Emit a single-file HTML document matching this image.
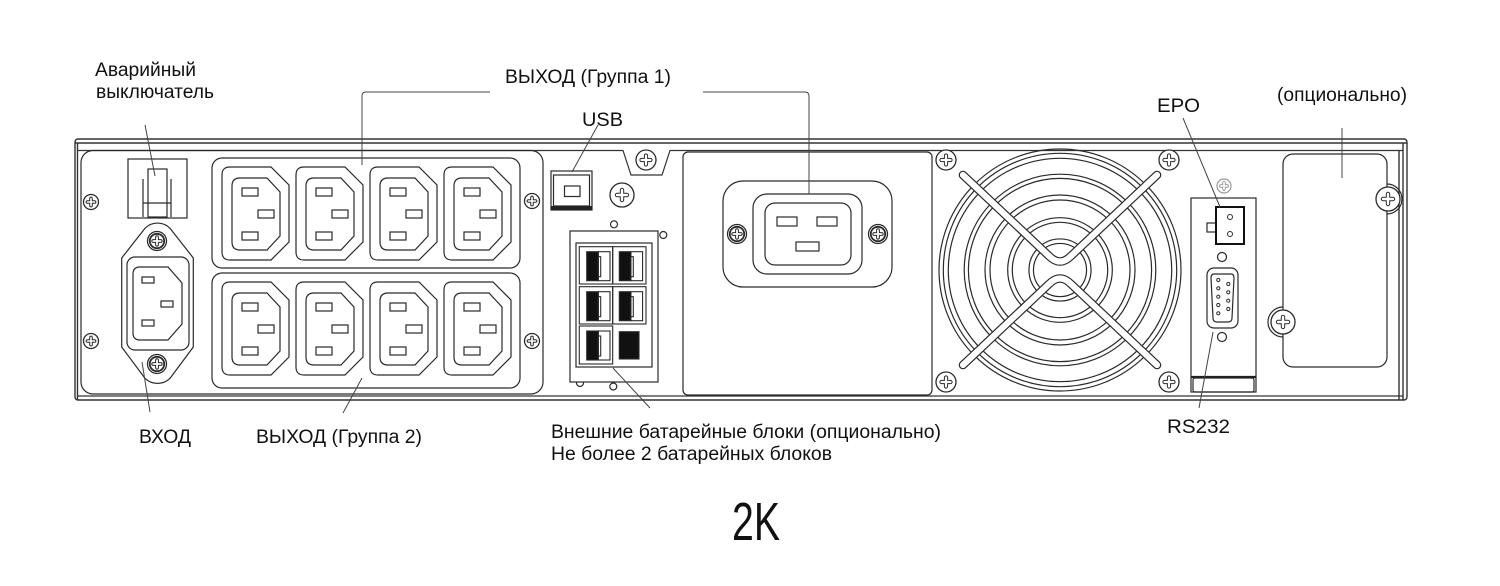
<!DOCTYPE html>
<html><head><meta charset="utf-8">
<style>
html,body{margin:0;padding:0;background:#fff;width:1500px;height:586px;overflow:hidden}
svg{display:block}
text{font-family:"Liberation Sans","DejaVu Sans",sans-serif;fill:#111;font-size:19px}
</style></head><body>
<svg width="1500" height="586" viewBox="0 0 1500 586" xmlns="http://www.w3.org/2000/svg">
<defs>
 <g id="outlet" fill="none" stroke="#2a2a2a" stroke-width="1.2">
  <path d="M8,0 H49 L67,18 V75 L49,93 H8 Q0,93 0,85 V8 Q0,0 8,0 Z"/>
  <path d="M18,11 H45 L58,25 V69 L45,83 H18 Q10,83 10,75 V19 Q10,11 18,11 Z"/>
  <rect x="20" y="21" width="16" height="8"/>
  <rect x="36" y="43" width="16" height="8"/>
  <rect x="20" y="65" width="16" height="8"/>
 </g>
 <g id="s7">
  <circle r="7.5" fill="#fff" stroke="#2a2a2a" stroke-width="1.3"/>
  <path d="M-3.6,0 H3.6 M0,-3.6 V3.6" stroke="#2a2a2a" stroke-width="3.6" stroke-linecap="round" fill="none"/>
  <path d="M-3.6,0 H3.6 M0,-3.6 V3.6" stroke="#fff" stroke-width="1.6" stroke-linecap="round" fill="none"/>
 </g>
 <g id="sd">
  <circle r="9.5" fill="#fff" stroke="#2a2a2a" stroke-width="1.3"/>
  <circle r="7.2" fill="#fff" stroke="#2a2a2a" stroke-width="1.8"/>
  <path d="M-3.8,0 H3.8 M0,-3.8 V3.8" stroke="#2a2a2a" stroke-width="3.8" stroke-linecap="round" fill="none"/>
  <path d="M-3.8,0 H3.8 M0,-3.8 V3.8" stroke="#fff" stroke-width="1.8" stroke-linecap="round" fill="none"/>
 </g>
 <g id="s10">
  <circle r="10" fill="#fff" stroke="#2a2a2a" stroke-width="1.3"/>
  <path d="M-4.5,0 H4.5 M0,-4.5 V4.5" stroke="#2a2a2a" stroke-width="4.2" stroke-linecap="round" fill="none"/>
  <path d="M-4.5,0 H4.5 M0,-4.5 V4.5" stroke="#fff" stroke-width="2.2" stroke-linecap="round" fill="none"/>
 </g>
 <g id="s12">
  <circle r="12" fill="#fff" stroke="#2a2a2a" stroke-width="1.3"/>
  <path d="M-5,0 H5 M0,-5 V5" stroke="#2a2a2a" stroke-width="4.4" stroke-linecap="round" fill="none"/>
  <path d="M-5,0 H5 M0,-5 V5" stroke="#fff" stroke-width="2.4" stroke-linecap="round" fill="none"/>
 </g>
</defs>

<rect width="1500" height="586" fill="#fff"/>

<!-- chassis -->
<g fill="none" stroke="#333" stroke-width="1.4">
 <rect x="75" y="139" width="1332" height="261" rx="3"/>
 <line x1="75" y1="143" x2="1407" y2="143"/>
 <line x1="77.5" y1="143" x2="77.5" y2="400"/>
 <line x1="1403" y1="143" x2="1403" y2="400"/>
 <line x1="1399" y1="150.5" x2="1399" y2="400"/>
 <path d="M77.5,150.5 H623 L631,175 H662 L670,150.5 H1403" stroke-width="1.2"/>
 <line x1="77.5" y1="396" x2="1403" y2="396" stroke-width="1.2"/>
</g>

<g fill="none" stroke="#2a2a2a" stroke-width="1.2">
 <!-- left panel -->
 <rect x="81" y="150.5" width="462" height="243.5" rx="12"/>
 <!-- emergency switch -->
 <rect x="128" y="159" width="59" height="59"/>
 <line x1="143" y1="179" x2="143" y2="217"/>
 <line x1="171" y1="179" x2="171" y2="217"/>
 <rect x="148" y="169" width="19" height="48"/>
 <line x1="143" y1="203" x2="171" y2="203"/>
 <!-- input flange -->
 <path d="M121.7,258 L145,228.3 A17.5,17.5 0 0 1 170,228.3 L193.3,258 V347 L170,378.3 A18,18 0 0 1 145,378.3 L121.7,347 Z"/>
 <rect x="127" y="257" width="62" height="93" rx="8"/>
 <path d="M140,267 H168 L182,283 V324 L168,340 H140 Q133,340 133,333 V274 Q133,267 140,267 Z"/>
 <rect x="142" y="277" width="12" height="6"/>
 <rect x="161" y="301" width="12" height="6"/>
 <rect x="142" y="320" width="12" height="6"/>
 <!-- outlet groups -->
 <rect x="212" y="158" width="308" height="110" rx="10"/>
 <rect x="212" y="273" width="308" height="115" rx="10"/>
</g>
<use href="#outlet" x="222" y="167"/>
<use href="#outlet" x="296" y="167"/>
<use href="#outlet" x="370" y="167"/>
<use href="#outlet" x="444" y="167"/>
<use href="#outlet" x="222" y="282"/>
<use href="#outlet" x="296" y="282"/>
<use href="#outlet" x="370" y="282"/>
<use href="#outlet" x="444" y="282"/>

<use href="#s7" x="91" y="202"/>
<use href="#s7" x="91" y="341"/>
<use href="#s7" x="532" y="201"/>
<use href="#s7" x="532" y="341"/>
<use href="#sd" x="157" y="241"/>
<use href="#sd" x="157" y="364"/>

<!-- USB -->
<g fill="none" stroke="#2a2a2a" stroke-width="1.2">
 <rect x="551" y="171" width="41" height="39"/>
 <rect x="553.5" y="175" width="36" height="31"/>
 <rect x="564.5" y="186" width="15.5" height="10.5"/>
</g>
<rect x="551" y="206" width="41" height="4" fill="#222"/>
<use href="#s12" x="622" y="195"/>
<use href="#s10" x="646" y="160"/>

<!-- battery connector -->
<g fill="none" stroke="#2a2a2a" stroke-width="1.2">
 <circle cx="614" cy="224.3" r="3.5"/>
 <circle cx="663.3" cy="235" r="3.5"/>
 <circle cx="580" cy="383" r="3.5"/>
 <circle cx="613.3" cy="386.5" r="3.5"/>
</g>
<g fill="#fff" stroke="#2a2a2a" stroke-width="1.2">
 <rect x="570" y="231" width="88" height="151"/>
 <rect x="576" y="243" width="76" height="124"/>
</g>
<g fill="none" stroke="#2a2a2a" stroke-width="1.1">
 <g transform="translate(579.3,246.7)"><rect width="33.4" height="37.3"/><rect x="7.4" y="5" width="11.6" height="29" fill="#111"/><rect x="19" y="5" width="11.7" height="29"/><rect x="19" y="10" width="2.4" height="20"/></g>
 <g transform="translate(612.7,246.7)"><rect width="33.3" height="37.3"/><rect x="6.6" y="5" width="11.6" height="29" fill="#111"/><rect x="18.2" y="5" width="11.7" height="29"/><rect x="18.2" y="10" width="2.4" height="20"/></g>
 <g transform="translate(579.3,286.7)"><rect width="33.4" height="37.3"/><rect x="7.4" y="5" width="11.6" height="29" fill="#111"/><rect x="19" y="5" width="11.7" height="29"/><rect x="19" y="10" width="2.4" height="20"/></g>
 <g transform="translate(612.7,286.7)"><rect width="33.3" height="37.3"/><rect x="6.6" y="5" width="11.6" height="29" fill="#111"/><rect x="18.2" y="5" width="11.7" height="29"/><rect x="18.2" y="10" width="2.4" height="20"/></g>
 <g transform="translate(579.3,326)"><rect width="33.4" height="38"/><rect x="7.4" y="5" width="11.6" height="29" fill="#111"/><rect x="19" y="5" width="11.7" height="29"/><rect x="19" y="10" width="2.4" height="20"/></g>
 <rect x="619.3" y="331.7" width="19.7" height="27.3" fill="#111"/>
</g>

<!-- center panel C20 -->
<g fill="none" stroke="#2a2a2a" stroke-width="1.2">
 <rect x="683" y="152" width="249" height="243" rx="5"/>
 <rect x="723" y="181" width="169" height="106" rx="20"/>
 <rect x="753" y="194" width="109" height="80" rx="14"/>
 <rect x="765" y="203" width="86" height="62" rx="10"/>
 <rect x="777" y="217" width="20" height="9"/>
 <rect x="817" y="217" width="20" height="9"/>
 <rect x="796" y="242" width="23" height="9"/>
</g>
<use href="#sd" x="737" y="234"/>
<use href="#sd" x="878" y="234"/>

<!-- fan -->
<g fill="none">
 <circle cx="1060" cy="270" r="121" stroke="#2a2a2a" stroke-width="1.2"/>
 <circle cx="1060" cy="270" r="114.2" stroke="#2a2a2a" stroke-width="6.2"/>
 <circle cx="1060" cy="270" r="114.2" stroke="#fff" stroke-width="3.8"/>
 <circle cx="1060" cy="270" r="93.7" stroke="#2a2a2a" stroke-width="5.4"/>
 <circle cx="1060" cy="270" r="93.7" stroke="#fff" stroke-width="3"/>
 <circle cx="1060" cy="270" r="72.5" stroke="#2a2a2a" stroke-width="6.2"/>
 <circle cx="1060" cy="270" r="72.5" stroke="#fff" stroke-width="3.8"/>
 <circle cx="1060" cy="270" r="50" stroke="#2a2a2a" stroke-width="5.8"/>
 <circle cx="1060" cy="270" r="50" stroke="#fff" stroke-width="3.4"/>
 <circle cx="1060" cy="270" r="28.8" stroke="#2a2a2a" stroke-width="5.7"/>
 <circle cx="1060" cy="270" r="28.8" stroke="#fff" stroke-width="3.3"/>
 <path d="M963,175 L1049,256 Q1060,267 1071,256 L1157,175" stroke="#2a2a2a" stroke-width="8.6" stroke-linecap="round" stroke-linejoin="round"/>
 <path d="M963,175 L1049,256 Q1060,267 1071,256 L1157,175" stroke="#fff" stroke-width="6.2" stroke-linecap="round" stroke-linejoin="round"/>
 <path d="M963,365 L1049,284 Q1060,273 1071,284 L1157,365" stroke="#2a2a2a" stroke-width="8.6" stroke-linecap="round" stroke-linejoin="round"/>
 <path d="M963,365 L1049,284 Q1060,273 1071,284 L1157,365" stroke="#fff" stroke-width="6.2" stroke-linecap="round" stroke-linejoin="round"/>
</g>
<use href="#s10" x="946" y="160"/>
<use href="#s10" x="1169" y="160"/>
<use href="#s10" x="946" y="382"/>
<use href="#s10" x="1169" y="382"/>

<!-- EPO / RS232 card -->
<g fill="none" stroke="#2a2a2a" stroke-width="1.2">
 <rect x="1191" y="198" width="65" height="194"/>
 <rect x="1193" y="378" width="61" height="14" rx="2"/>
 <circle cx="1222" cy="257" r="4.5"/>
 <circle cx="1222" cy="337" r="4.5"/>
 <rect x="1207" y="268" width="31" height="60" rx="7"/>
 <path d="M1214,274 H1231 Q1234,274 1234,278 L1232,318 Q1232,322 1228,322 H1217 Q1213,322 1213,318 L1211,278 Q1211,274 1214,274 Z"/>
 <rect x="1207" y="223" width="9" height="9"/>
</g>
<line x1="1191" y1="377" x2="1256" y2="377" stroke="#222" stroke-width="2.2"/>
<rect x="1216" y="207" width="28" height="37" fill="#fff" stroke="#111" stroke-width="2"/>
<g fill="none" stroke="#2a2a2a" stroke-width="1">
 <circle cx="1230" cy="217" r="2.5"/>
 <circle cx="1230" cy="234" r="2.5"/>
 <circle cx="1218.3" cy="280" r="1.6"/><circle cx="1218.3" cy="288.3" r="1.6"/><circle cx="1218.3" cy="296.7" r="1.6"/><circle cx="1218.3" cy="305" r="1.6"/><circle cx="1218.3" cy="313.3" r="1.6"/>
 <circle cx="1228.3" cy="284" r="1.6"/><circle cx="1228.3" cy="292.3" r="1.6"/><circle cx="1228.3" cy="300.7" r="1.6"/><circle cx="1228.3" cy="309" r="1.6"/>
</g>
<g transform="translate(1224,186)">
 <circle r="7" fill="#fff" stroke="#999" stroke-width="1.2"/>
 <path d="M-3.3,0 H3.3 M0,-3.3 V3.3" stroke="#999" stroke-width="3.4" stroke-linecap="round" fill="none"/>
 <path d="M-3.3,0 H3.3 M0,-3.3 V3.3" stroke="#fff" stroke-width="1.6" stroke-linecap="round" fill="none"/>
</g>

<!-- optional slot -->
<g fill="none" stroke="#2a2a2a" stroke-width="1.2">
 <rect x="1283" y="154" width="104" height="213" rx="10"/>
 <path d="M1387,184 A15,15 0 0 1 1387,214"/>
 <path d="M1283,307 A15,15 0 0 0 1283,337"/>
</g>
<use href="#s12" x="1388" y="199"/>
<use href="#s12" x="1283" y="322"/>

<!-- leader lines -->
<g fill="none" stroke="#444" stroke-width="1">
 <line x1="145" y1="125" x2="155" y2="176"/>
 <line x1="142" y1="362" x2="150" y2="412"/>
 <line x1="362" y1="378" x2="343" y2="413"/>
 <path d="M362,165 V96 Q362,92 366,92 H490"/>
 <path d="M703,92 H805 Q809,92 809,96 V194"/>
 <line x1="598" y1="125" x2="572" y2="172"/>
 <line x1="613" y1="368" x2="650" y2="408"/>
 <line x1="1183" y1="118" x2="1220" y2="207"/>
 <line x1="1213" y1="332" x2="1199" y2="408"/>
 <line x1="1342" y1="128" x2="1342" y2="178"/>
</g>

<!-- labels -->
<text x="95" y="76" textLength="101" lengthAdjust="spacingAndGlyphs">Аварийный</text>
<text x="96" y="98" textLength="118" lengthAdjust="spacingAndGlyphs">выключатель</text>
<text x="505" y="83" textLength="166" lengthAdjust="spacingAndGlyphs">ВЫХОД (Группа 1)</text>
<text x="582" y="126" textLength="41" lengthAdjust="spacingAndGlyphs">USB</text>
<text x="1157" y="112" textLength="43" lengthAdjust="spacingAndGlyphs">EPO</text>
<text x="1277" y="101" textLength="130" lengthAdjust="spacingAndGlyphs">(опционально)</text>
<text x="139" y="443" textLength="52" lengthAdjust="spacingAndGlyphs">ВХОД</text>
<text x="256" y="443" textLength="166" lengthAdjust="spacingAndGlyphs">ВЫХОД (Группа 2)</text>
<text x="551" y="438" textLength="390" lengthAdjust="spacingAndGlyphs">Внешние батарейные блоки (опционально)</text>
<text x="551" y="460" textLength="281" lengthAdjust="spacingAndGlyphs">Не более 2 батарейных блоков</text>
<text x="1167" y="433" textLength="63" lengthAdjust="spacingAndGlyphs">RS232</text>
<text x="732" y="540" style="font-size:54px" textLength="48" lengthAdjust="spacingAndGlyphs">2K</text>
</svg>
</body></html>
